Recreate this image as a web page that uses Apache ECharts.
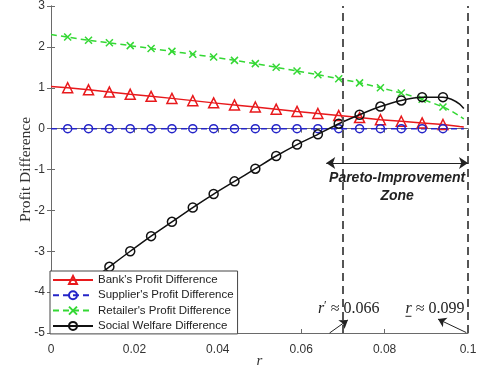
<!DOCTYPE html>
<html>
<head>
<meta charset="utf-8">
<script src="https://cdn.jsdelivr.net/npm/echarts@6/dist/echarts.min.js"></script>
<style>
  html, body { margin: 0; padding: 0; background: #fff; }
  #chart { width: 482px; height: 378px; }
</style>
</head>
<body>
<div id="chart"></div>
<script>
// interest rate r (first and last three entries are curve-only points, the rest carry markers)
const rValues = [0, 0.004, 0.009, 0.014, 0.019, 0.024, 0.029, 0.034, 0.039, 0.044, 0.049,
  0.054, 0.059, 0.064, 0.069, 0.074, 0.079, 0.084, 0.089, 0.094, 0.096, 0.098, 0.099];

const bankDiff = [1.03, 1.00, 0.95, 0.895, 0.84, 0.79, 0.74, 0.685, 0.63, 0.58, 0.53,
  0.475, 0.42, 0.37, 0.32, 0.27, 0.22, 0.18, 0.14, 0.10, 0.075, 0.05, 0.04];
const supplierDiff = [0, 0, 0, 0, 0, 0, 0, 0, 0, 0, 0,
  0, 0, 0, 0, 0, 0, 0, 0, 0, 0, 0, 0];
const retailerDiff = [2.30, 2.24, 2.16, 2.10, 2.03, 1.96, 1.89, 1.82, 1.75, 1.67, 1.59,
  1.50, 1.41, 1.32, 1.22, 1.12, 1.00, 0.87, 0.72, 0.53, 0.43, 0.31, 0.24];
const welfareDiff = [-4.50, -4.15, -3.76, -3.38, -3.00, -2.63, -2.28, -1.93, -1.60, -1.29, -0.98,
  -0.67, -0.39, -0.14, 0.12, 0.34, 0.54, 0.69, 0.77, 0.77, 0.72, 0.60, 0.49];

const seriesNames = ["Bank's Profit Difference", "Supplier's Profit Difference",
  "Retailer's Profit Difference", "Social Welfare Difference"];

const xTicks = { min: 0, max: 0.1, step: 0.02 };
const yTicks = { min: -5, max: 3, step: 1 };

// thresholds of the Pareto-improvement zone
const rPrime = 0.066;
const rBound = 0.1;
const zoneArrowY = -0.84;

const firstMarker = 1, lastMarker = 19;

function toPoints(vals) {
  return rValues.map(function (r, i) {
    const item = { value: [r, vals[i]] };
    if (i < firstMarker || i > lastMarker) item.symbol = 'none';
    return item;
  });
}

const chart = echarts.init(document.getElementById('chart'), null, { renderer: 'canvas' });

const frameColor = '#6a6a6a';
const labelColor = '#333';
const sansFont = '"Liberation Sans", Arial, sans-serif';
const serifFont = '"Liberation Serif", "Times New Roman", serif';

function lineSeries(name, vals, color, dashed, symbol, size, extra) {
  return Object.assign({
    name: name,
    type: 'line',
    data: toPoints(vals),
    symbol: symbol,
    symbolSize: size,
    showSymbol: true,
    lineStyle: { color: color, width: 1.5, type: dashed ? [6, 4] : 'solid' },
    itemStyle: { color: 'rgba(255,255,255,0)', borderColor: color, borderWidth: 1.5 },
    emphasis: { disabled: true },
    animation: false
  }, extra || {});
}

const hiddenAxis = {
  axisLine: { show: true, lineStyle: { color: frameColor, width: 1 } },
  axisTick: { show: true, inside: true, length: 4, lineStyle: { color: frameColor } },
  axisLabel: { show: false },
  splitLine: { show: false }
};

chart.setOption({
  animation: false,
  backgroundColor: '#fff',
  grid: { left: 51, right: 14, top: 6, bottom: 45, containLabel: false, outerBoundsMode: 'none' },
  xAxis: [{
    type: 'value', min: xTicks.min, max: xTicks.max, interval: xTicks.step,
    name: 'r', nameLocation: 'middle', nameGap: 21, nameMoveOverlap: false,
    nameTextStyle: { fontFamily: serifFont, fontStyle: 'italic', fontSize: 15, color: '#333' },
    axisLine: { show: true, onZero: false, lineStyle: { color: frameColor, width: 1 } },
    axisTick: { show: true, inside: true, length: 4, lineStyle: { color: frameColor } },
    axisLabel: { color: labelColor, fontFamily: sansFont, fontSize: 12, margin: 11 },
    splitLine: { show: false }
  }, Object.assign({
    type: 'value', position: 'top', min: xTicks.min, max: xTicks.max, interval: xTicks.step
  }, hiddenAxis)],
  yAxis: [{
    type: 'value', min: yTicks.min, max: yTicks.max, interval: yTicks.step,
    name: 'Profit Difference', nameLocation: 'middle', nameGap: 17, nameRotate: 90, nameMoveOverlap: false,
    nameTextStyle: { fontFamily: serifFont, fontSize: 15.5, color: '#333' },
    axisLine: { show: true, onZero: false, lineStyle: { color: frameColor, width: 1 } },
    axisTick: { show: true, inside: true, length: 4, lineStyle: { color: frameColor } },
    axisLabel: { color: labelColor, fontFamily: sansFont, fontSize: 12, margin: 6 },
    splitLine: { show: false }
  }, Object.assign({
    type: 'value', position: 'right', min: yTicks.min, max: yTicks.max, interval: yTicks.step
  }, hiddenAxis)],
  legend: {
    data: seriesNames,
    orient: 'vertical',
    left: 50, top: 271,
    z: 20,
    padding: [3, 4, 2, 2],
    itemWidth: 40, itemHeight: 10, itemGap: 3.3, itemTextGap: 3,
    backgroundColor: '#fff',
    borderColor: '#444', borderWidth: 1, borderRadius: 0,
    textStyle: { fontFamily: sansFont, fontSize: 11.5, color: '#222', lineHeight: 12 },
    selectedMode: false
  },
  series: [
    lineSeries(seriesNames[0], bankDiff, '#e8191c', false, 'triangle', 10, { z: 3 }),
    lineSeries(seriesNames[1], supplierDiff, '#2424c8', true, 'circle', 8, { z: 3 }),
    lineSeries(seriesNames[2], retailerDiff, '#34d834', true, 'path://M0,0L10,10M10,0L0,10', 7, { z: 3, smooth: 0.2 }),
    lineSeries(seriesNames[3], welfareDiff, '#111', false, 'circle', 9, { z: 4, smooth: 0.25 }),
    {
      // threshold lines and arrows of the Pareto-improvement zone
      name: 'zone', type: 'line', data: [], clip: false, silent: true, z: 5,
      markLine: {
        silent: true, animation: false,
        label: { show: false },
        emphasis: { disabled: true },
        symbol: 'none',
        lineStyle: { color: '#555', width: 2, type: [8, 5] },
        data: [
          { xAxis: rPrime },
          { xAxis: rBound },
          [
            { coord: [rPrime, zoneArrowY], symbol: 'arrow', symbolSize: 9,
              lineStyle: { color: '#222', width: 1, type: 'solid' } },
            { coord: [rBound, zoneArrowY], symbol: 'arrow', symbolSize: 9 }
          ],
          [
            { coord: [0.0668, -5.0], symbol: 'none',
              lineStyle: { color: '#222', width: 1, type: 'solid' } },
            { coord: [0.0712, -4.68], symbol: 'arrow', symbolSize: 8 }
          ],
          [
            { coord: [0.0996, -4.99], symbol: 'none',
              lineStyle: { color: '#222', width: 1, type: 'solid' } },
            { coord: [0.0928, -4.66], symbol: 'arrow', symbolSize: 8 }
          ]
        ]
      }
    }
  ]
});

// text annotations placed through the axes' scales
function px(x, y) { return chart.convertToPixel({ xAxisIndex: 0, yAxisIndex: 0 }, [x, y]); }

const zoneCenter = px((rPrime + rBound) / 2, -1.2);
const zoneCenter2 = px((rPrime + rBound) / 2, -1.65);
const rPrimeLabel = px(0.0640, -4.42);
const rBoundLabel = px(0.0850, -4.42);

const mathRich = {
  i: { fontFamily: serifFont, fontStyle: 'italic', fontSize: 16, fill: '#222' },
  n: { fontFamily: serifFont, fontSize: 16, fill: '#222' },
  p: { fontFamily: serifFont, fontSize: 12, fill: '#222', verticalAlign: 'top', padding: [0, 0, 6, 0] }
};

chart.setOption({
  graphic: [
    {
      type: 'text', x: zoneCenter[0], y: zoneCenter[1], z: 10,
      style: { text: 'Pareto-Improvement', fontFamily: sansFont, fontWeight: 'bold', fontStyle: 'italic',
        fontSize: 14, fill: '#222', align: 'center', verticalAlign: 'middle' }
    },
    {
      type: 'text', x: zoneCenter2[0], y: zoneCenter2[1], z: 10,
      style: { text: 'Zone', fontFamily: sansFont, fontWeight: 'bold', fontStyle: 'italic',
        fontSize: 14, fill: '#222', align: 'center', verticalAlign: 'middle' }
    },
    {
      type: 'text', x: rPrimeLabel[0], y: rPrimeLabel[1], z: 10,
      style: { text: '{i|r}{p|′}{n| ≈ 0.066}', rich: mathRich, align: 'left', verticalAlign: 'middle' }
    },
    {
      type: 'text', x: rBoundLabel[0], y: rBoundLabel[1], z: 10,
      style: { text: '{i|r}{n| ≈ 0.099}', rich: mathRich, align: 'left', verticalAlign: 'middle' }
    },
    {
      // underline of the lower-bound symbol
      type: 'line', z: 10,
      shape: { x1: rBoundLabel[0], y1: rBoundLabel[1] + 7, x2: rBoundLabel[0] + 6, y2: rBoundLabel[1] + 7 },
      style: { stroke: '#222', lineWidth: 1 }
    }
  ]
});
</script>
</body>
</html>
